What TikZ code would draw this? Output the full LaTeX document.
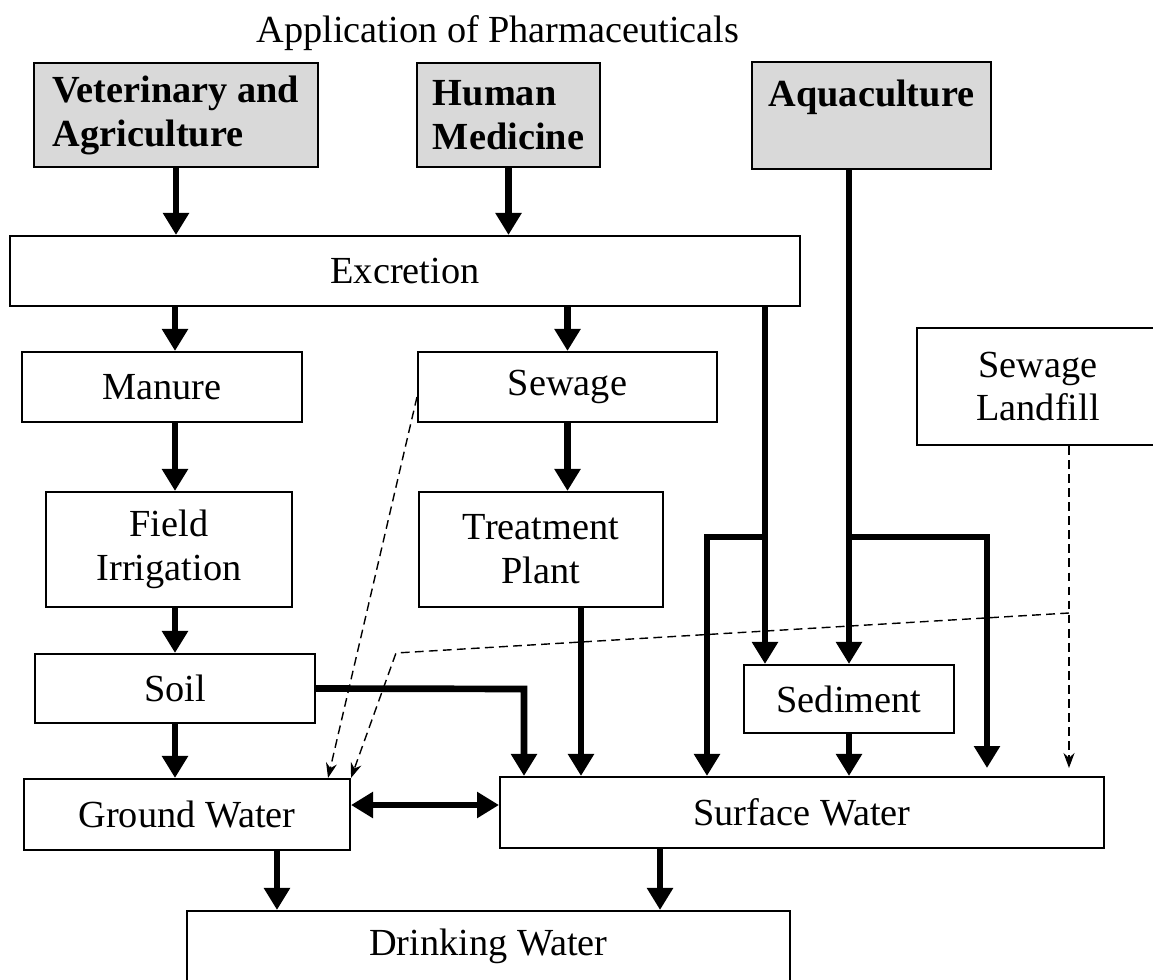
\documentclass[tikz,border=0pt]{standalone}
\usepackage{fontspec}
\setmainfont{Liberation Serif}
\usetikzlibrary{arrows.meta}

\tikzset{
  box/.style={draw, line width=1.2pt, fill=white, inner sep=0pt, align=center,
    font=\fontsize{21.8}{25}\selectfont},
  source/.style={box, fill=gray!30, align=left, font=\fontsize{21.8}{25}\selectfont\bfseries},
  flow/.style={line width=3.8pt, -{Triangle[length=0.44cm, width=0.5cm]}},
  leak/.style={line width=0.8pt, dash pattern=on 5pt off 3pt, -{Stealth[length=0.3cm, width=0.22cm]}},
}

\begin{document}
\begin{tikzpicture}[x=0.02cm, y=-0.02cm]
  \path[use as bounding box, clip] (0,0) rectangle (1153,980);

  \node[anchor=base, font=\fontsize{21.8}{25}\selectfont] (title) at (498,43) {Application of Pharmaceuticals};

  % where the drugs come from
  \node[source, minimum width=5.68cm, minimum height=2.08cm] (vet) at (176,115) {Veterinary and\\Agriculture};
  \node[source, minimum width=3.66cm, minimum height=2.08cm] (human) at (508.5,115) {Human\\Medicine};
  \node[source, minimum width=4.78cm, minimum height=2.14cm] (aqua) at (871.5,115.5) {Aquaculture\\~};

  \node[box, minimum width=15.82cm, minimum height=1.4cm] (exc) at (405,271) {Excretion};

  \node[box, minimum width=5.6cm, minimum height=1.4cm] (manure) at (162,387) {Manure};
  \node[box, minimum width=5.98cm, minimum height=1.4cm] (sewage) at (567.5,387) {Sewage};
  \node[box, minimum width=4.84cm, minimum height=2.34cm] (landfill) at (1038,386.5) {Sewage\\Landfill};

  \node[box, minimum width=4.92cm, minimum height=2.3cm] (field) at (169,549.5) {Field\\Irrigation};
  \node[box, minimum width=4.88cm, minimum height=2.3cm] (plant) at (541,549.5) {Treatment\\Plant};

  \node[box, minimum width=5.6cm, minimum height=1.38cm] (soil) at (175,688.5) {Soil};
  \node[box, minimum width=4.2cm, minimum height=1.36cm] (sediment) at (849,699) {Sediment};

  \node[box, minimum width=6.52cm, minimum height=1.42cm] (ground) at (187,814.5) {Ground Water};
  \node[box, minimum width=12.08cm, minimum height=1.42cm] (surface) at (802,812.5) {Surface Water};
  \node[box, minimum width=12.06cm, minimum height=1.4cm] (drink) at (488.5,946) {Drinking Water};

  % bends of the flows
  \coordinate (splitL) at (765,537);
  \coordinate (bendL) at (707,537);
  \coordinate (splitR) at (849,537);
  \coordinate (bendR) at (987,537);
  \coordinate (endR) at (987,768);
  \coordinate (bendS) at (524,689);
  \coordinate (both) at (425,805);
  \coordinate (seep) at (1069,613);
  \coordinate (kink) at (396,653);

  \draw[flow] (vet.south) -- (vet.south |- exc.north);
  \draw[flow] (human.south) -- (human.south |- exc.north);
  \draw[flow] (exc.south -| soil) -- (soil |- manure.north);
  \draw[flow] (soil |- manure.south) -- (soil |- field.north);
  \draw[flow] (soil |- field.south) -- (soil.north);
  \draw[flow] (soil.south) -- (soil.south |- ground.north);

  \draw[flow] (exc.south -| sewage) -- (sewage.north);
  \draw[flow] (sewage.south) -- (sewage.south |- plant.north);
  \draw[flow] ([xshift=0.8cm]plant.south) -- ([xshift=0.8cm]plant.south |- surface.north);
  \draw[flow] (soil.east) -- (bendS) -- (bendS |- surface.north);

  \draw[flow] (exc.south -| splitL) -- (splitL |- sediment.north);
  \draw[flow] (aqua.south -| splitR) -- (splitR |- sediment.north);
  \draw[flow] (splitL) -- (bendL) -- (bendL |- surface.north);
  \draw[flow] (splitR) -- (bendR) -- (endR);
  \draw[flow] (sediment.south) -- (sediment.south |- surface.north);

  \draw[line width=3.8pt, {Triangle[length=0.44cm, width=0.5cm]}-{Triangle[length=0.44cm, width=0.5cm]}]
    (ground.east |- both) -- (surface.west |- both);

  \draw[flow] ([xshift=1.8cm]ground.south) -- ([xshift=1.8cm]ground.south |- drink.north);
  \draw[flow] ([xshift=-2.84cm]surface.south) -- ([xshift=-2.84cm]surface.south |- drink.north);

  % dashed leaks
  \draw[leak] (landfill.south -| seep) -- (seep |- endR);
  \draw[leak] (seep) -- (kink) -- (ground.north east);
  \draw[leak] ([yshift=-0.2cm]sewage.west) -- ([xshift=-0.46cm]ground.north east);
\end{tikzpicture}
\end{document}
